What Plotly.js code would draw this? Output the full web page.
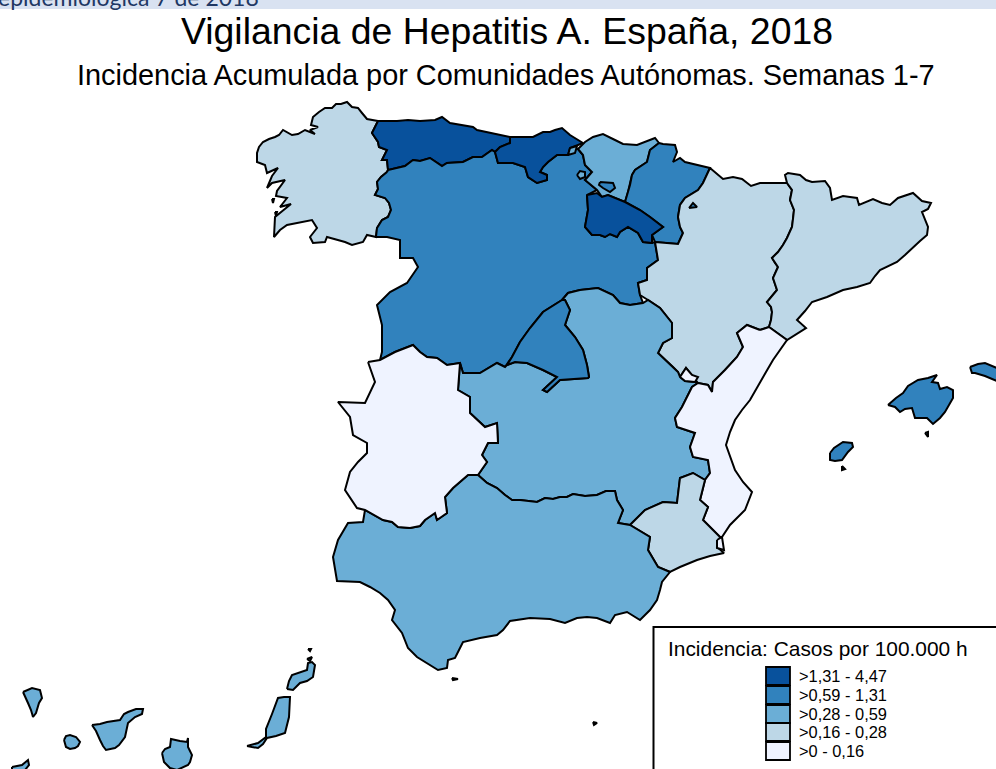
<!DOCTYPE html>
<html><head><meta charset="utf-8">
<script src="https://cdn.plot.ly/plotly-3.0.1.min.js"></script>
<style>html,body{margin:0;padding:0;background:#fff;overflow:hidden}#map{width:996px;height:769px}</style>
</head><body><div id="map"></div>
<script>
// Map units: one unit per reference pixel, y downwards.
const classLabels = [">1,31 - 4,47", ">0,59 - 1,31", ">0,28 - 0,59", ">0,16 - 0,28", ">0 - 0,16"];
const classColors = ["#08519c", "#3182bd", "#6baed6", "#bdd7e7", "#eff3ff"];

// Shared borders
const bGalAst = [[378,121],[372,133],[378,142],[379,147],[387,150],[382,160],[387,160],[388,170]];
const bGalCyL = [[388,170],[387,172],[381,177],[377,182],[378,189],[375,195],[385,198],[389,203],[391,210],[388,217],[382,220],[377,228],[376,237]];
const bAraCat = [[787,183],[792,190],[790,200],[794,210],[793,219],[792,227],[787,238],[783,245],[778,252],[772,258],[775,263],[778,267],[773,278],[775,284],[777,290],[767,302],[771,307],[772,312],[771,320],[769,327]];
const bAndCLM = [[478,475],[487,483],[497,488],[505,495],[512,500],[520,500],[528,501],[537,502],[545,498],[553,499],[560,497],[567,497],[573,494],[585,496],[597,495],[606,491],[615,491],[617,500],[623,510],[618,523],[630,525]];
const bAndExt = [[365,510],[374,515],[383,520],[392,522],[398,527],[410,528],[420,526],[425,520],[435,513],[437,520],[447,513],[445,497],[453,488],[468,475],[478,475]];
const rev = a => a.slice().reverse();

const galicia = [[378,121],[367,119],[362,113],[358,108],[352,107],[347,102],[341,104],[336,104],[332,108],[325,108],[319,112],[313,117],[311,125],[318,127],[310,130],[315,134],[305,130],[298,134],[292,135],[288,133],[283,130],[279,135],[275,137],[269,139],[263,142],[259,147],[257,153],[257,162],[265,165],[267,173],[278,168],[272,176],[267,188],[272,183],[285,180],[277,191],[276,196],[287,198],[280,207],[291,204],[275,217],[274,237],[280,230],[287,225],[297,223],[312,220],[317,228],[310,237],[313,243],[325,242],[327,237],[337,240],[345,242],[352,245],[363,242],[367,235], ...rev(bGalCyL), ...rev(bGalAst).slice(1,-1)];
const asturias = [[378,121],[397,121],[408,120],[420,121],[435,120],[442,117],[450,123],[462,125],[473,127],[477,130],[495,134],[510,137],[510,143],[500,147],[495,152],[492,150],[482,157],[473,157],[463,162],[447,163],[442,166],[430,158],[420,161],[413,160],[405,166],[388,170], ...rev(bGalAst).slice(1,-1)];
const cantabria = [[510,137],[522,137],[533,137],[543,132],[550,132],[555,130],[562,128],[570,135],[583,143],[578,145],[570,148],[568,155],[557,155],[548,162],[543,167],[540,172],[547,175],[547,180],[537,183],[528,177],[525,167],[513,163],[498,163],[495,152],[500,147],[510,143]];
const villaverde = [[570,148],[577,146],[575,153],[568,155]];
const paisVasco = [[578,149],[585,142],[593,137],[603,134],[615,140],[623,144],[637,145],[655,138],[659,143],[650,150],[647,162],[635,170],[632,175],[630,185],[628,192],[625,202],[608,195],[602,197],[597,190],[585,180],[592,172],[585,165],[583,155]];
const navarra = [[659,143],[663,144],[675,145],[677,152],[673,162],[680,158],[685,162],[697,165],[710,168],[703,183],[698,190],[685,198],[680,205],[678,217],[680,227],[683,233],[678,244],[667,243],[655,242],[652,235],[663,227],[650,217],[640,210],[625,202],[628,192],[630,185],[632,175],[635,170],[647,162],[650,150]];
const rioja = [[587,195],[597,193],[602,197],[608,195],[625,202],[640,210],[650,217],[663,227],[652,235],[652,243],[643,242],[638,233],[628,227],[620,232],[617,237],[610,234],[605,237],[600,235],[592,235],[585,227],[588,210]];
const aragon = [[710,168],[717,174],[723,179],[733,177],[742,179],[751,186],[760,183],[773,183],[787,183], ...bAraCat.slice(1), [760,330],[747,325],[737,333],[743,347],[737,357],[725,370],[713,382],[712,392],[708,385],[698,383],[692,375],[686,368],[680,377],[678,372],[673,367],[658,353],[663,343],[672,338],[672,323],[660,308],[648,300],[640,295],[638,283],[647,280],[647,268],[658,260],[655,242],[667,243],[678,244],[683,233],[680,227],[678,217],[680,205],[685,198],[698,190],[703,183]];
const cataluna = [[787,183],[785,175],[788,173],[800,175],[806,180],[812,182],[825,181],[830,188],[832,200],[843,196],[850,197],[857,198],[859,205],[873,199],[882,203],[890,205],[898,198],[906,195],[913,193],[922,201],[931,203],[928,209],[922,212],[928,227],[927,235],[920,241],[913,248],[905,255],[897,262],[880,270],[875,276],[870,283],[857,287],[843,290],[827,297],[812,302],[805,311],[797,320],[806,328],[798,333],[787,340], ...rev(bAraCat).slice(0,-1)];
const valencia = [[760,330],[769,327],[787,340],[780,350],[773,360],[766,372],[760,383],[750,400],[742,410],[735,420],[730,432],[726,445],[735,470],[743,482],[752,492],[745,510],[730,525],[722,537],[720,537],[703,520],[708,507],[700,500],[705,480],[710,473],[708,460],[693,457],[690,447],[695,433],[677,427],[675,418],[682,407],[692,387],[698,383],[708,385],[712,392],[713,382],[725,370],[737,357],[743,347],[737,333],[747,325]];
const murcia = [[630,525],[645,510],[663,502],[677,503],[680,478],[693,473],[705,480],[700,500],[708,507],[703,520],[720,537],[717,547],[724,553],[710,556],[697,560],[680,567],[670,572],[658,567],[648,550],[650,537]];
const andalucia = [...bAndExt, ...bAndCLM.slice(1), [650,537],[648,550],[658,567],[670,572],[662,582],[660,590],[657,600],[650,610],[640,620],[627,612],[615,615],[610,623],[597,618],[587,617],[577,618],[565,623],[550,619],[530,618],[510,621],[503,630],[497,635],[480,638],[463,642],[459,650],[455,658],[448,660],[447,668],[438,670],[427,663],[417,657],[408,648],[402,633],[392,620],[395,610],[388,600],[380,593],[370,587],[360,582],[337,581],[335,570],[333,557],[338,540],[348,523],[363,522]];
const extremadura = [[368,362],[380,360],[395,352],[413,345],[420,352],[427,357],[437,358],[447,365],[460,363],[458,390],[470,397],[470,413],[485,427],[497,423],[498,443],[488,443],[482,455],[487,462],[478,475], ...rev(bAndExt).slice(1), [357,508],[345,490],[350,472],[358,462],[367,453],[367,443],[353,435],[350,417],[338,402],[365,403],[375,382]];
const castillaLeon = [...bGalCyL.slice(1,-1).reverse().reverse(), [376,237],[387,237],[400,240],[400,258],[413,258],[418,267],[407,283],[390,292],[377,305],[382,325],[382,352],[380,360],[395,352],[413,345],[420,352],[427,357],[437,358],[447,365],[460,363],[463,373],[480,373],[497,363],[505,367],[512,357],[520,342],[530,328],[543,312],[562,300],[568,293],[580,290],[598,288],[613,295],[620,303],[630,305],[643,303],[640,295],[638,283],[647,280],[647,268],[658,260],[655,242],[652,243],[643,242],[638,233],[628,227],[620,232],[617,237],[610,234],[605,237],[600,235],[592,235],[585,227],[588,210],[587,195],[597,190],[585,180],[592,172],[585,165],[583,155],[578,149],[570,148],[568,155],[557,155],[548,162],[543,167],[540,172],[547,175],[547,180],[537,183],[528,177],[525,167],[513,163],[498,163],[495,152],[492,150],[482,157],[473,157],[463,162],[447,163],[442,166],[430,158],[420,161],[413,160],[405,166],[388,170]];
const madrid = [[562,300],[565,300],[570,310],[565,325],[575,337],[583,350],[587,365],[589,377],[588,378],[575,379],[560,380],[547,392],[543,390],[557,377],[543,370],[527,363],[515,362],[507,365],[512,357],[520,342],[530,328],[543,312]];
const castillaMancha = [[460,363],[463,373],[480,373],[497,363],[505,367],[507,365],[515,362],[527,363],[543,370],[557,377],[543,390],[547,392],[560,380],[575,379],[588,378],[589,377],[587,365],[583,350],[575,337],[565,325],[570,310],[565,300],[562,300],[568,293],[580,290],[598,288],[613,295],[620,303],[630,305],[643,303],[648,300],[660,308],[672,323],[672,338],[663,343],[658,353],[673,367],[678,372],[680,377],[685,381],[695,382],[698,383],[692,387],[682,407],[675,418],[677,427],[695,433],[690,447],[693,457],[708,460],[710,473],[705,480],[693,473],[680,478],[677,503],[663,502],[645,510],[630,525], ...rev(bAndCLM).slice(1), [487,462],[482,455],[488,443],[498,443],[497,423],[485,427],[470,413],[470,397],[458,390]];
const ademuz = [[680,377],[686,368],[692,375],[698,377],[695,382],[685,381]];
const marMenor = [[717,540],[722,537],[724,550],[717,548]];
const trevino = [[600,182],[613,183],[615,188],[610,192],[603,188],[599,185]];
const orduna = [[577,175],[580,171],[585,172],[585,177],[580,179]];
const petilla = [[689,208],[693,203],[697,207]];
const mallorca = [[888,405],[896,398],[903,393],[908,386],[918,380],[928,378],[937,375],[932,382],[938,383],[940,389],[947,387],[953,390],[953,398],[948,407],[945,412],[940,418],[933,424],[927,418],[915,418],[912,408],[905,409],[900,412],[895,407]];
const menorca = [[970,367],[978,364],[985,363],[997,368],[997,381],[985,376],[975,373],[972,373]];
const cabrera = [[925,433],[928,432],[928,437]];
const ibiza = [[830,453],[834,448],[843,442],[852,443],[853,447],[848,452],[842,460],[835,461],[830,460]];
const formentera = [[842,466],[845,469],[842,470]];
const laPalma = [[23,692],[27,690],[32,688],[40,690],[42,698],[39,703],[38,707],[36,713],[33,717],[31,710],[28,703],[25,697]];
const gomera = [[64,740],[66,736],[70,735],[76,737],[80,742],[78,746],[75,748],[70,749],[66,747]];
const tenerife = [[92,725],[100,724],[107,722],[115,721],[120,720],[124,714],[128,712],[136,709],[143,709],[142,714],[135,717],[128,723],[126,731],[125,737],[119,745],[115,748],[106,750],[103,746],[100,740],[96,731]];
const granCanaria = [[162,753],[165,749],[170,747],[171,739],[180,741],[187,742],[188,738],[188,747],[192,755],[190,762],[188,765],[177,770],[170,768],[164,762]];
const hierro = [[12,767],[22,765],[28,760],[29,765],[25,770],[12,770]];
const fuerteventura = [[247,746],[258,743],[266,737],[266,729],[272,714],[278,698],[284,697],[290,697],[289,717],[287,725],[285,733],[276,736],[267,738],[263,744],[258,748],[252,747]];
const lanzarote = [[287,689],[289,681],[292,675],[300,672],[307,670],[308,663],[312,662],[315,665],[313,677],[307,681],[300,683],[293,690]];
const graciosa = [[307,659],[312,657],[310,661]];
const alegranza = [[308,649],[311,649],[310,651]];
const cies = [[272,199],[274,199],[273,203]];
const ons = [[275,212],[277,212],[276,216]];
const ceuta = [[452,678],[458,679],[453,680]];
const melilla = [[593,722],[597,723],[594,725]];

// [name, outline, class index]
const regions = [
  ["Galicia", galicia, 3], ["Asturias", asturias, 0], ["Castilla y León", castillaLeon, 1], ["Cantabria", cantabria, 0],
  ["Villaverde", villaverde, 2], ["País Vasco", paisVasco, 2], ["Navarra", navarra, 1],
  ["La Rioja", rioja, 0], ["Aragón", aragon, 3], ["Cataluña", cataluna, 3],
  ["Castilla-La Mancha", castillaMancha, 2], ["Madrid", madrid, 1], ["C. Valenciana", valencia, 4],
  ["Murcia", murcia, 3], ["Andalucía", andalucia, 2], ["Extremadura", extremadura, 4],
  ["Rincón de Ademuz", ademuz, 4], ["Mar Menor", marMenor, 4], ["Treviño", trevino, 1],
  ["Orduña", orduna, 2], ["Petilla", petilla, 1], ["Cíes", cies, 3], ["Ons", ons, 3],
  ["Mallorca", mallorca, 1], ["Menorca", menorca, 1], ["Cabrera", cabrera, 1], ["Ibiza", ibiza, 1], ["Formentera", formentera, 1],
  ["La Palma", laPalma, 2], ["La Gomera", gomera, 2], ["Tenerife", tenerife, 2], ["Gran Canaria", granCanaria, 2],
  ["El Hierro", hierro, 2], ["Fuerteventura", fuerteventura, 2], ["Lanzarote", lanzarote, 2], ["La Graciosa", graciosa, 2], ["Alegranza", alegranza, 2],
  ["Ceuta", ceuta, 2], ["Melilla", melilla, 2]
];

const titleText = "Vigilancia de Hepatitis A. España, 2018";
const subtitleText = "Incidencia Acumulada por Comunidades Autónomas. Semanas 1-7";
const legendTitle = "Incidencia: Casos por 100.000 h";
const headerText = "epidemiológica 7 de 2018";

const traces = regions.map(([name, pts, c]) => ({
  type: "scatter", mode: "lines", name,
  x: pts.concat([pts[0]]).map(p => p[0]),
  y: pts.concat([pts[0]]).map(p => p[1]),
  fill: "toself", fillcolor: classColors[c],
  line: {color: "#000", width: 2, shape: "linear"},
  text: classLabels[c], hoverinfo: "name+text", showlegend: false
}));

const swatchTop = [667, 686, 705, 723, 742];
const shapes = [
  {type:"rect", xref:"x", yref:"y", x0:0, x1:996, y0:0, y1:9, fillcolor:"#d9e2f1", line:{width:0}, layer:"below"},
  {type:"rect", xref:"x", yref:"y", x0:653.5, x1:1000, y0:627, y1:775, fillcolor:"#fff", line:{color:"#000", width:2}, layer:"above"}
];
classLabels.forEach((l,i) => shapes.push({type:"rect", xref:"x", yref:"y", x0:766, x1:790, y0:swatchTop[i], y1:swatchTop[i]+18, fillcolor:classColors[i], line:{color:"#000", width:1.8}, layer:"above"}));

const ann = (text,x,y,size,color,xanchor,family) => ({text,x:x/996,y:1-y/769,xref:"paper",yref:"paper",xanchor,yanchor:"middle",showarrow:false,font:{size,color,family:family||"Liberation Sans"},borderpad:0});
const annotations = [
  ann(headerText,-3,-3,23,"#1f3864","left","Lato"),
  ann(titleText,506.5,31,37.4,"#000","center"),
  ann(subtitleText,506,75,28.9,"#000","center"),
  ann(legendTitle,667,648,20.9,"#000","left")
];
classLabels.forEach((l,i) => annotations.push(ann(l,798,swatchTop[i]+9,16.4,"#000","left")));

Plotly.newPlot("map", traces, {
  width:996, height:769, margin:{l:0,r:0,t:0,b:0}, paper_bgcolor:"#fff", plot_bgcolor:"#fff",
  xaxis:{range:[0,996], visible:false, fixedrange:true},
  yaxis:{range:[769,0], visible:false, fixedrange:true},
  shapes, annotations, showlegend:false
}, {displayModeBar:false});
</script></body></html>
